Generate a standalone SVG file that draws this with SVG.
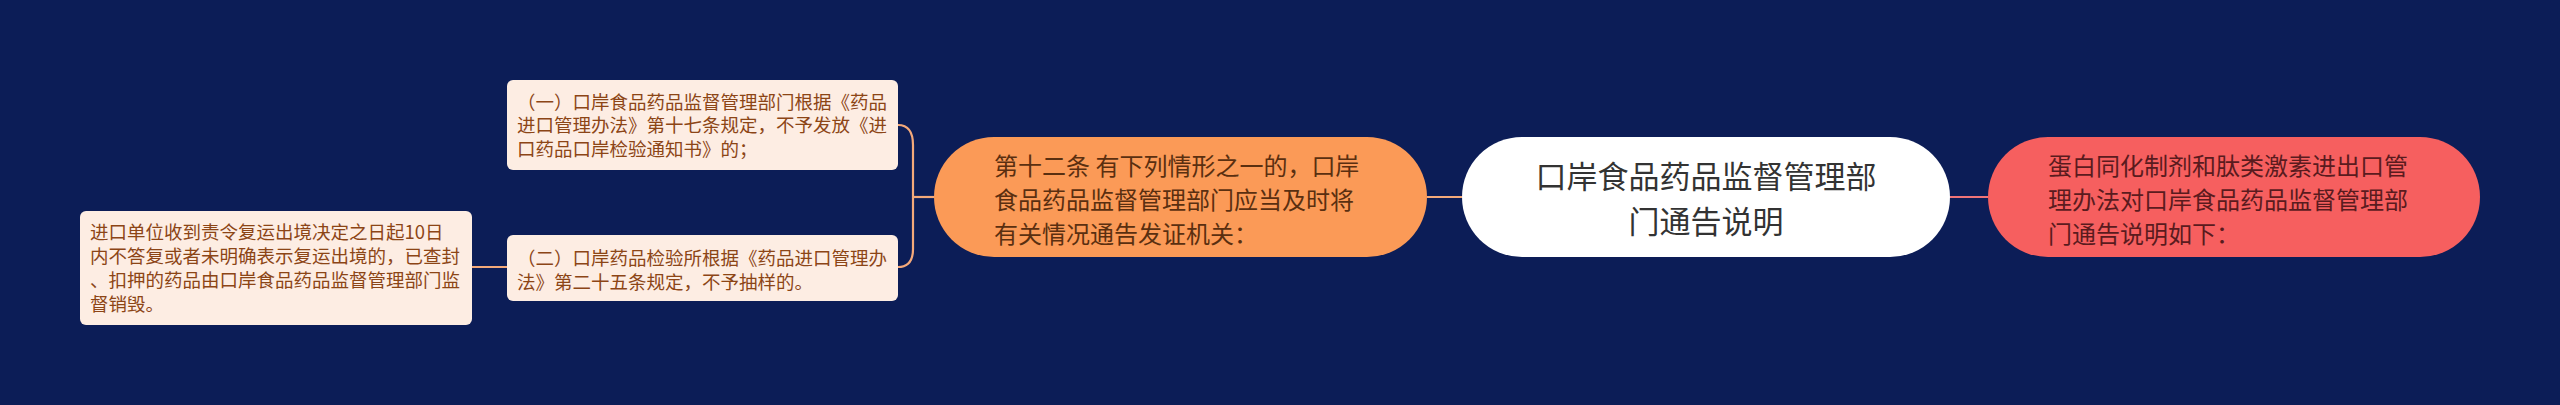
<svg xmlns="http://www.w3.org/2000/svg" width="2560" height="405" viewBox="0 0 2560 405">
<style>
.t{font-family:"Noto Sans CJK SC","Noto Sans",sans-serif;}
.root{font-size:31px;fill:#333333;}
.main{font-size:24px;}
.box{fill:#fdede3;}
.bt{font-size:18.5px;fill:#8c4516;}
.c{fill:none;stroke-width:2.2;}
</style>
<rect x="0" y="0" width="2560" height="405" fill="#0c1d57"/>
<g id="connectors">
<path class="c" stroke="#f4a97a" d="M1427 197 L1462 197"/>
<path class="c" stroke="#f07478" d="M1950 197 L1988 197"/>
<path class="c" stroke="#f4a97a" d="M935 197 L913 197"/>
<path class="c" stroke="#f4a97a" d="M898 125 Q913 125 913 145 L913 249 Q913 267 898 267"/>
<path class="c" stroke="#f4a97a" d="M507 267 L472 267"/>
</g>
<g id="root">
<rect x="1462" y="137" width="488" height="120" rx="60" fill="#ffffff"/>
<text class="t root" x="1706" y="188" text-anchor="middle">口岸食品药品监督管理部</text>
<text class="t root" x="1706" y="233" text-anchor="middle">门通告说明</text>
</g>
<g id="right">
<rect x="1988" y="137" width="492" height="120" rx="60" fill="#f65f5f"/>
<text class="t main" fill="#5a1b1e" x="2048" y="174.5">蛋白同化制剂和肽类激素进出口管</text>
<text class="t main" fill="#5a1b1e" x="2048" y="208.5">理办法对口岸食品药品监督管理部</text>
<text class="t main" fill="#5a1b1e" x="2048" y="242.5">门通告说明如下：</text>
</g>
<g id="left">
<rect x="934" y="137" width="493" height="120" rx="60" fill="#fb9a57"/>
<text class="t main" fill="#5a2f10" x="994" y="174.5" xml:space="preserve">第十二条 有下列情形之一的，口岸</text>
<text class="t main" fill="#5a2f10" x="994" y="208.5">食品药品监督管理部门应当及时将</text>
<text class="t main" fill="#5a2f10" x="994" y="242.5">有关情况通告发证机关：</text>
</g>
<g id="item1">
<rect class="box" x="507" y="80" width="391" height="90" rx="6"/>
<text class="t bt" x="517" y="108.5">（一）口岸食品药品监督管理部门根据《药品</text>
<text class="t bt" x="517" y="132">进口管理办法》第十七条规定，不予发放《进</text>
<text class="t bt" x="517" y="155.5">口药品口岸检验通知书》的；</text>
</g>
<g id="item2">
<rect class="box" x="507" y="235" width="391" height="66" rx="6"/>
<text class="t bt" x="517" y="265">（二）口岸药品检验所根据《药品进口管理办</text>
<text class="t bt" x="517" y="288.5">法》第二十五条规定，不予抽样的。</text>
</g>
<g id="item3">
<rect class="box" x="80" y="211" width="392" height="114" rx="6"/>
<text class="t bt" x="90" y="238.5">进口单位收到责令复运出境决定之日起10日</text>
<text class="t bt" x="90" y="262.5">内不答复或者未明确表示复运出境的，已查封</text>
<text class="t bt" x="90" y="286.5">、扣押的药品由口岸食品药品监督管理部门监</text>
<text class="t bt" x="90" y="310.5">督销毁。</text>
</g>
</svg>
